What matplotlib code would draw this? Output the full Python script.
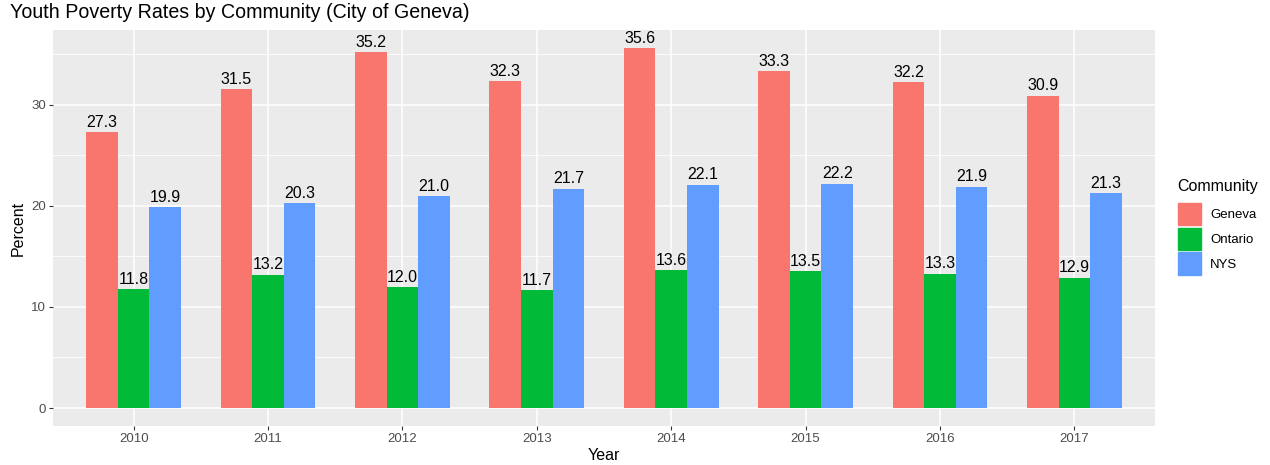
import matplotlib.pyplot as plt
import matplotlib.patches as mpatches
import numpy as np
from matplotlib.ticker import MultipleLocator

plt.rcParams['font.family'] = ['Liberation Sans', 'DejaVu Sans']

years = ['2010', '2011', '2012', '2013', '2014', '2015', '2016', '2017']
communities = ['Geneva', 'Ontario', 'NYS']
geneva = [27.3, 31.5, 35.2, 32.3, 35.6, 33.3, 32.2, 30.9]
ontario = [11.8, 13.2, 12.0, 11.7, 13.6, 13.5, 13.3, 12.9]
nys = [19.9, 20.3, 21.0, 21.7, 22.1, 22.2, 21.9, 21.3]
colors = ['#F8766D', '#00BA38', '#619CFF']

fig = plt.figure(figsize=(12.7, 4.65), dpi=100)
ax = fig.add_axes([53 / 1270, 1 - 426 / 465, (1155 - 53) / 1270, (426 - 30) / 465])
ax.set_facecolor('#EBEBEB')

x = np.arange(1, len(years) + 1)
w = 0.235
for i, (vals, c) in enumerate(zip([geneva, ontario, nys], colors)):
    bars = ax.bar(x + (i - 1) * w, vals, width=w, color=c, label=communities[i], zorder=3)
    ax.bar_label(bars, fmt='%.1f', padding=1.5, fontsize=11.5, color='black')

ax.set_xlim(0.4, 8.6)
ax.set_ylim(-1.78, 37.38)
ax.set_xticks(x)
ax.set_xticklabels(years)
ax.yaxis.set_major_locator(MultipleLocator(10))
ax.yaxis.set_minor_locator(MultipleLocator(5))
ax.grid(which='major', color='white', linewidth=1.1, zorder=0)
ax.grid(which='minor', axis='y', color='white', linewidth=0.55, zorder=0)
ax.set_axisbelow(True)
for s in ax.spines.values():
    s.set_visible(False)
ax.tick_params(which='major', length=3, width=0.8, color='#333333', labelcolor='#4D4D4D',
               labelsize=9.5, pad=2)
ax.tick_params(which='minor', length=0)

ax.set_xlabel('Year', fontsize=11.5, labelpad=2)
ax.set_ylabel('Percent', fontsize=11.5, labelpad=4)
fig.text(10 / 1270, 1 - 13 / 465, 'Youth Poverty Rates by Community (City of Geneva)',
         fontsize=14.1, va='center', ha='left')

# legend (title drawn separately to get ggplot-like spacing)
fig.text(1177 / 1270, 1 - 186 / 465, 'Community', fontsize=11.5, va='center', ha='left')
handles = [mpatches.Patch(color=c, label=l) for c, l in zip(colors, communities)]
leg = fig.legend(handles=handles, loc='upper left',
                 bbox_to_anchor=(1178 / 1270, 1 - 203 / 465), frameon=False,
                 fontsize=9.5, handlelength=1.75, handleheight=2.2,
                 labelspacing=0.2, handletextpad=0.68, borderaxespad=0, borderpad=0)

fig.savefig('out.png', dpi=100)
